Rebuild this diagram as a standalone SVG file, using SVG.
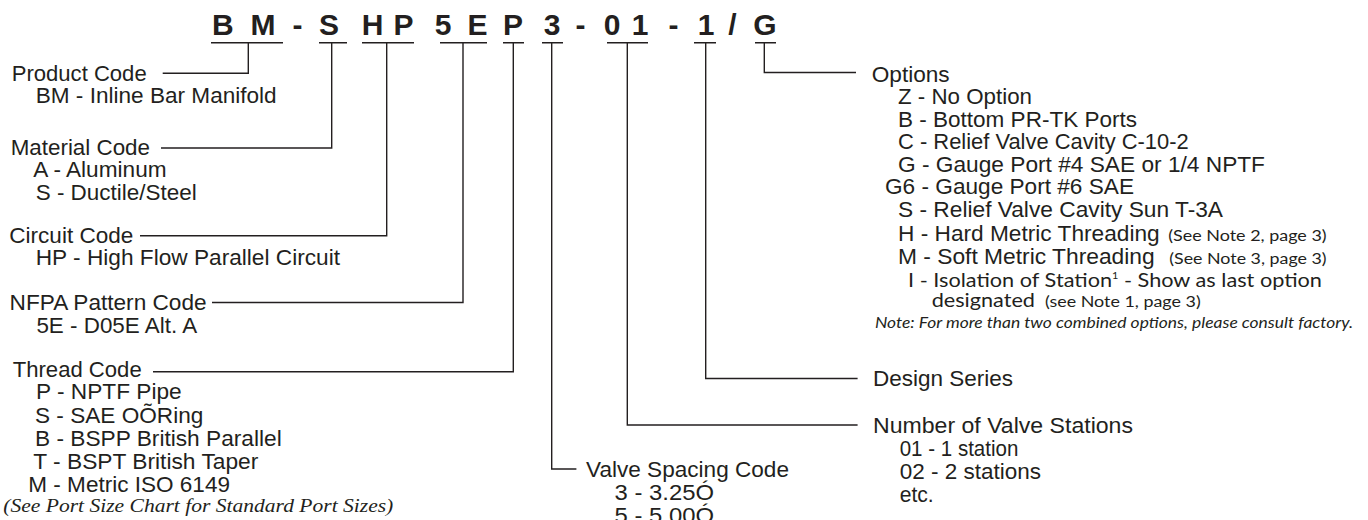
<svg xmlns="http://www.w3.org/2000/svg" width="1368" height="520" viewBox="0 0 1368 520">
<style>
.t{font-family:"Liberation Sans",Arial,Helvetica,sans-serif;font-size:22px;fill:#231f20}
.f{font-family:Lato,"Noto Sans",sans-serif;fill:#231f20}
.s{font-size:15.5px}
.i{font-family:"Liberation Serif","Times New Roman",serif;font-style:italic;font-size:19px;fill:#231f20}
.ttl{font-family:"Liberation Sans",Arial,Helvetica,sans-serif;font-weight:bold;font-size:30px;fill:#231f20;text-anchor:middle}
.ln{stroke:#231f20;stroke-width:1.4;fill:none}
</style>
<rect width="1368" height="520" fill="#ffffff"/>
<g id="title">
<text class="ttl" y="35" x="222.9 262.9 297.5 329 372.5 403.5 443 477.5 513 552 580.5 612 640 673.5 706 732.5 765">BM-SHP5EP3-01-1/G</text>
</g>
<g id="connectors" class="ln">
<path d="M211,42.7H283M248.3,42.7V73.3H162.7"/>
<path d="M319,42.7H347M331.7,42.7V148H161"/>
<path d="M362,42.7H414M386.7,42.7V235.7H140"/>
<path d="M440,42.7H487M463,42.7V302.5H212"/>
<path d="M503,42.7H524M513.3,42.7V371.7H153"/>
<path d="M542,42.7H563M551.7,42.7V469H576.4"/>
<path d="M607,42.7H648M627.3,42.7V425H857.6"/>
<path d="M694,42.7H716M705.7,42.7V378.5H857.6"/>
<path d="M755,42.7H776M764.3,42.7V72.5H856"/>
</g>
<g id="product">
<text class="t" x="11.7" y="80.7" textLength="135" lengthAdjust="spacingAndGlyphs">Product Code</text>
<text class="t" x="35.7" y="103.3" textLength="241" lengthAdjust="spacingAndGlyphs">BM - Inline Bar Manifold</text>
</g>
<g id="material">
<text class="t" x="10.7" y="155" textLength="139.3" lengthAdjust="spacingAndGlyphs">Material Code</text>
<text class="t" x="33.3" y="177.3" textLength="133.3" lengthAdjust="spacingAndGlyphs">A - Aluminum</text>
<text class="t" x="35.7" y="200" textLength="161" lengthAdjust="spacingAndGlyphs">S - Ductile/Steel</text>
</g>
<g id="circuit">
<text class="t" x="9.3" y="243.3" textLength="124" lengthAdjust="spacingAndGlyphs">Circuit Code</text>
<text class="t" x="35.7" y="265" textLength="304.3" lengthAdjust="spacingAndGlyphs">HP - High Flow Parallel Circuit</text>
</g>
<g id="nfpa">
<text class="t" x="9.6" y="310" textLength="197" lengthAdjust="spacingAndGlyphs">NFPA Pattern Code</text>
<text class="t" x="36.4" y="333" textLength="160.7" lengthAdjust="spacingAndGlyphs">5E - D05E Alt. A</text>
</g>
<g id="thread">
<text class="t" x="12.7" y="377.3" textLength="129" lengthAdjust="spacingAndGlyphs">Thread Code</text>
<text class="t" x="36" y="399.3" textLength="145.7" lengthAdjust="spacingAndGlyphs">P - NPTF Pipe</text>
<text class="t" x="35" y="422.7" textLength="168.3" lengthAdjust="spacingAndGlyphs">S - SAE OÕRing</text>
<text class="t" x="35" y="446" textLength="246.7" lengthAdjust="spacingAndGlyphs">B - BSPP British Parallel</text>
<text class="t" x="33.3" y="469.3" textLength="225" lengthAdjust="spacingAndGlyphs">T - BSPT British Taper</text>
<text class="t" x="28.3" y="491.7" textLength="201.7" lengthAdjust="spacingAndGlyphs">M - Metric ISO 6149</text>
<text class="i" x="3.3" y="511.7" textLength="390" lengthAdjust="spacingAndGlyphs">(See Port Size Chart for Standard Port Sizes)</text>
</g>
<g id="spacing">
<text class="t" x="586" y="477" textLength="203" lengthAdjust="spacingAndGlyphs">Valve Spacing Code</text>
<text class="t" x="614.6" y="500" textLength="99.4" lengthAdjust="spacingAndGlyphs">3 - 3.25Ó</text>
<text class="t" x="614.6" y="523" textLength="99.4" lengthAdjust="spacingAndGlyphs">5 - 5.00Ó</text>
</g>
<g id="stations">
<text class="t" x="873" y="432.5" textLength="260" lengthAdjust="spacingAndGlyphs">Number of Valve Stations</text>
<text class="t" x="899.7" y="455.5" textLength="118.7" lengthAdjust="spacingAndGlyphs">01 - 1 station</text>
<text class="t" x="899.7" y="478.5" textLength="141.3" lengthAdjust="spacingAndGlyphs">02 - 2 stations</text>
<text class="t" x="899.7" y="501.5" textLength="34" lengthAdjust="spacingAndGlyphs">etc.</text>
</g>
<g id="design">
<text class="t" x="873" y="386" textLength="140" lengthAdjust="spacingAndGlyphs">Design Series</text>
</g>
<g id="options">
<text class="t" x="871.7" y="81.7" textLength="78" lengthAdjust="spacingAndGlyphs">Options</text>
<text class="t" x="898" y="104" textLength="134" lengthAdjust="spacingAndGlyphs">Z - No Option</text>
<text class="t" x="898" y="126.7" textLength="239" lengthAdjust="spacingAndGlyphs">B - Bottom PR-TK Ports</text>
<text class="t" x="898" y="149.3" textLength="290.7" lengthAdjust="spacingAndGlyphs">C - Relief Valve Cavity C-10-2</text>
<text class="t" x="898" y="171.7" textLength="367" lengthAdjust="spacingAndGlyphs">G - Gauge Port #4 SAE or 1/4 NPTF</text>
<text class="t" x="885" y="194.3" textLength="249" lengthAdjust="spacingAndGlyphs">G6 - Gauge Port #6 SAE</text>
<text class="t" x="898" y="217.3" textLength="325" lengthAdjust="spacingAndGlyphs">S - Relief Valve Cavity Sun T-3A</text>
<text class="t" x="898" y="240.7" textLength="261.7" lengthAdjust="spacingAndGlyphs">H - Hard Metric Threading</text>
<text class="f s" x="1168.3" y="240.7" textLength="158.3" lengthAdjust="spacingAndGlyphs">(See Note 2, page 3)</text>
<text class="t" x="898" y="264" textLength="256.7" lengthAdjust="spacingAndGlyphs">M - Soft Metric Threading</text>
<text class="f s" x="1169.3" y="264" textLength="157.3" lengthAdjust="spacingAndGlyphs">(See Note 3, page 3)</text>
<text class="f" x="908" y="286.7" font-size="20" textLength="414" lengthAdjust="spacingAndGlyphs">I - Isolation of Station<tspan font-size="10" dy="-8">1</tspan><tspan dy="8"> - Show as last option</tspan></text>
<text class="f" x="931.7" y="306.7" font-size="20" textLength="103.3" lengthAdjust="spacingAndGlyphs">designated</text>
<text class="f s" x="1045" y="306.7" textLength="155.7" lengthAdjust="spacingAndGlyphs">(see Note 1, page 3)</text>
<text class="f s" x="875" y="328" font-style="italic" textLength="478" lengthAdjust="spacingAndGlyphs">Note:  For more than two combined options, please consult factory.</text>
</g>
</svg>
